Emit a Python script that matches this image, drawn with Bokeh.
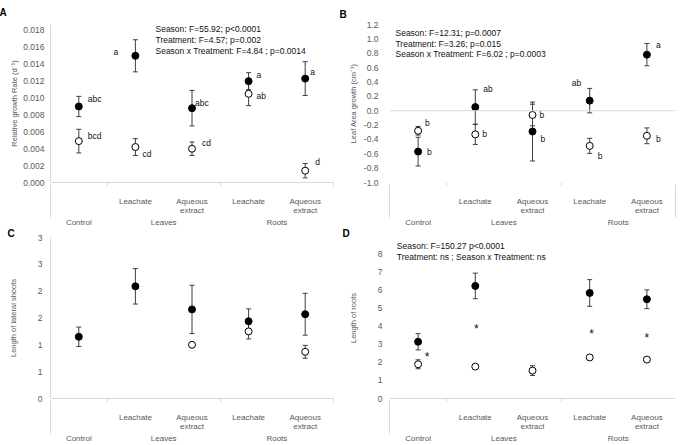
import numpy as np
from bokeh.plotting import figure
from bokeh.layouts import gridplot
from bokeh.models import (ColumnDataSource, FixedTicker, LinearAxis, Range1d, Label, Span,
                          NumeralTickFormatter, Title)
from bokeh.embed import file_html
from bokeh.resources import INLINE
from bokeh.core.properties import value

NAN = np.nan

# ---------------- shared categories ----------------
positions = [1, 2, 3, 4, 5]
sub_labels = [" ", "Leachate", "Aqueous\nextract", "Leachate", "Aqueous\nextract"]
group_labels = ["Control", "Leaves", "Roots"]
group_positions = [1, 2.5, 4.5]

# ---------------- Panel A : relative growth rate ----------------
a_filled = [0.0090, 0.0150, 0.0088, 0.0120, 0.0123]
a_filled_se = [0.0012, 0.0019, 0.0021, 0.0010, 0.0020]
a_open = [0.0049, 0.0042, 0.0040, 0.0105, 0.0014]
a_open_se = [0.0014, 0.0010, 0.0008, 0.0014, 0.00085]
a_filled_letters = ["abc", "a", "abc", "a", "a"]
a_open_letters = ["bcd", "cd", "cd", "ab", "d"]
a_yticks = [0.000, 0.002, 0.004, 0.006, 0.008, 0.010, 0.012, 0.014, 0.016, 0.018]
a_ylabel = "Relative growth Rate (d\u207b\u00b9)"
a_stats = ["Season: F=55.92; p<0.0001",
           "Treatment: F=4.57; p=0.002",
           "Season x Treatment: F=4.84 ; p=0.0014"]

# ---------------- Panel B : leaf area growth ----------------
b_filled = [-0.57, 0.05, -0.29, 0.14, 0.78]
b_filled_se = [0.20, 0.24, 0.41, 0.17, 0.155]
b_open = [-0.28, -0.33, -0.06, -0.49, -0.35]
b_open_se = [0.06, 0.14, 0.15, 0.105, 0.11]
b_filled_letters = ["b", "ab", "b", "ab", "a"]
b_open_letters = ["b", "b", "b", "b", "b"]
b_yticks = [-1.0, -0.8, -0.6, -0.4, -0.2, 0.0, 0.2, 0.4, 0.6, 0.8, 1.0, 1.2]
b_ylabel = "Leaf Area growth (cm\u207b\u00b9)"
b_stats = ["Season: F=12.31; p=0.0007",
           "Treatment: F=3.26; p=0.015",
           "Season x Treatment: F=6.02 ; p=0.0003"]

# ---------------- Panel C : lateral shoots ----------------
c_filled = [1.15, 2.09, 1.66, 1.44, 1.57]
c_filled_se = [0.18, 0.33, 0.45, 0.23, 0.39]
c_open = [NAN, NAN, 1.00, 1.25, 0.87]
c_open_se = [NAN, NAN, 0.03, 0.14, 0.12]
c_yticks = [0.0, 0.5, 1.0, 1.5, 2.0, 2.5, 3.0]
c_ytick_labels = ["0", "1", "1", "2", "2", "3", "3"]
c_ylabel = "Length of lateral shoots"

# ---------------- Panel D : roots ----------------
d_filled = [3.15, 6.25, NAN, 5.86, 5.51]
d_filled_se = [0.45, 0.71, NAN, 0.74, 0.52]
d_open = [1.90, 1.77, 1.55, 2.28, 2.16]
d_open_se = [0.25, 0.12, 0.27, 0.10, 0.12]
d_stars = ["*", "*", "", "*", "*"]
d_yticks = [0, 1, 2, 3, 4, 5, 6, 7, 8]
d_ylabel = "Length of roots"
d_stats = ["Season: F=150.27 p<0.0001",
           "Treatment: ns ; Season x Treatment: ns"]

# ---------------- style ----------------
FONT = "Liberation Sans"
GREY = "#595959"
LINE = "#d9d9d9"
ERR = "#3f3f3f"
TXT = "#111111"


def make_panel(w, h, bl, br, bt, bb, y0, y1, yticks, ylabel, fmt=None, overrides=None,
               tick_standoff=6, label_standoff=5, show_yline=True, show_xline=True,
               short_b=(1.5, 3.5, 5.5), tall_b=(0.5,)):
    p = figure(width=w, height=h, x_range=Range1d(0.5, 5.5), y_range=Range1d(y0, y1),
               x_axis_type=None, y_axis_type=None, title=None,
               output_backend="svg", toolbar_location=None,
               min_border_left=bl, min_border_right=br, min_border_top=bt, min_border_bottom=bb)
    p.outline_line_color = None
    p.background_fill_color = "white"
    p.border_fill_color = "white"

    yax = LinearAxis(ticker=FixedTicker(ticks=yticks),
                     axis_label=ylabel, axis_label_text_font=FONT,
                     axis_label_text_font_size="7.5px", axis_label_text_font_style="normal",
                     axis_label_text_color=GREY, axis_label_standoff=label_standoff,
                     major_tick_in=0, major_tick_out=0, minor_tick_line_color=None,
                     major_label_standoff=tick_standoff, major_label_text_font=FONT,
                     major_label_text_font_size="8.5px", major_label_text_color=GREY,
                     axis_line_color=LINE if show_yline else None)
    if fmt is not None:
        yax.formatter = NumeralTickFormatter(format=fmt)
    if overrides is not None:
        yax.major_label_overrides = overrides
    p.add_layout(yax, "left")

    sub = LinearAxis(ticker=FixedTicker(ticks=positions, minor_ticks=list(short_b)),
                     major_label_overrides={k: v for k, v in zip(positions, sub_labels)},
                     major_tick_in=0, major_tick_out=0, minor_tick_in=0, minor_tick_out=4,
                     minor_tick_line_color=LINE, axis_line_color=LINE if show_xline else None,
                     major_label_standoff=10, major_label_text_font=FONT,
                     major_label_text_line_height=1.0,
                     major_label_text_font_size="8px", major_label_text_color=GREY)
    p.add_layout(sub, "below")

    grp = LinearAxis(ticker=FixedTicker(ticks=group_positions, minor_ticks=list(tall_b)),
                     major_label_overrides={k: v for k, v in zip(group_positions, group_labels)},
                     major_tick_in=0, major_tick_out=0, minor_tick_in=33, minor_tick_out=0,
                     minor_tick_line_color=LINE, axis_line_color=None,
                     major_label_standoff=0, major_label_text_font=FONT,
                     major_label_text_line_height=1.0,
                     major_label_text_font_size="8px", major_label_text_color=GREY)
    p.add_layout(grp, "below")
    geom = (w - bl - br, h - bt - bb, y0, y1)
    return p, geom


def to_data(geom, px_x, px_y):
    fw, fh, y0, y1 = geom
    return 0.5 + px_x / fw * 5.0, y1 - px_y / fh * (y1 - y0)


def add_series(p, filled, filled_se, opened, opened_se):
    for m, s in ((filled, filled_se), (opened, opened_se)):
        m = np.array(m, dtype=float)
        s = np.array(s, dtype=float)
        src = ColumnDataSource(dict(x=np.array(positions, dtype=float), lo=m - s, hi=m + s))
        p.segment(x0="x", y0="lo", x1="x", y1="hi", source=src, line_color=ERR, line_width=1)
        p.scatter(x="x", y="lo", marker="dash", size=5, line_color=ERR, line_width=1, source=src)
        p.scatter(x="x", y="hi", marker="dash", size=5, line_color=ERR, line_width=1, source=src)
    p.scatter(x=positions, y=np.array(opened, dtype=float), marker="circle", size=7,
              fill_color="white", line_color="black", line_width=1)
    p.scatter(x=positions, y=np.array(filled, dtype=float), marker="circle", size=7,
              fill_color="black", line_color="black", line_width=1)


def add_letters(p, means, letters, dx, dy, size="8.5px", align="left"):
    src = ColumnDataSource(dict(x=np.array(positions, dtype=float), y=np.array(means, dtype=float),
                                t=letters, dx=dx, dy=dy))
    p.text(x="x", y="y", text="t", x_offset="dx", y_offset="dy", source=src,
           text_font=value(FONT), text_font_size=value(size), text_color=TXT,
           text_baseline="middle", text_align=align)


def add_stats(p, geom, lines, px_x, px_ys):
    for t, py in zip(lines, px_ys):
        x, y = to_data(geom, px_x, py)
        p.add_layout(Label(x=x, y=y, text=t, text_font=FONT, text_font_size="8.5px",
                           text_color=TXT, text_align="left", text_baseline="middle"))


def add_tag(p, t, offset, standoff):
    p.add_layout(Title(text=t, align="left", offset=offset, standoff=standoff,
                       vertical_align="top", text_font=FONT, text_font_size="10px",
                       text_font_style="bold", text_color="black"), "above")


# ---------------- A ----------------
pA, gA = make_panel(340, 229, 50, 7, 24, 46, 0.0, 0.018706, a_yticks, a_ylabel, fmt="0.000",
                    tick_standoff=6, label_standoff=1)
add_tag(pA, "A", -51, 10)
add_series(pA, a_filled, a_filled_se, a_open, a_open_se)
add_letters(pA, a_filled, a_filled_letters, [9, -22, 3, 8, 5], [-7, -4, -5, -6, -7])
add_letters(pA, a_open, a_open_letters, [9, 7, 10, 8, 10], [-5, 7, -6, 2, -9])
add_stats(pA, gA, a_stats, 105, [5, 16, 27])

# ---------------- B ----------------
pB, gB = make_panel(341, 229, 49, 5, 19, 46, -1.0, 1.2, b_yticks, b_ylabel, fmt="0.0",
                    tick_standoff=11, label_standoff=3, show_yline=False, show_xline=False,
                    short_b=(1.5, 3.5), tall_b=(0.5, 5.5))
add_tag(pB, "B", -50, 5)
pB.add_layout(Span(location=0, dimension="width", line_color=LINE, line_width=1))
add_series(pB, b_filled, b_filled_se, b_open, b_open_se)
add_letters(pB, b_filled, b_filled_letters, [9, 8, 8, -18, 9], [0, -18, 7, -18, -10])
add_letters(pB, b_open, b_open_letters, [7, 7, 7, 8, 9], [-8, 0, 0, 10, 3])
add_stats(pB, gB, b_stats, 6, [9, 20.3, 31])

# ---------------- C ----------------
pC, gC = make_panel(340, 216, 43, 7, 8, 46, 0.0, 3.0, c_yticks, c_ylabel,
                    overrides={k: v for k, v in zip(c_yticks, c_ytick_labels)},
                    tick_standoff=8, label_standoff=17)
add_tag(pC, "C", -43, -6)
add_series(pC, c_filled, c_filled_se, c_open, c_open_se)

# ---------------- D ----------------
pD, gD = make_panel(341, 216, 44, 6, 8, 46, 0.0, 8.938, d_yticks, d_ylabel, fmt="0",
                    tick_standoff=7, label_standoff=17, show_yline=False,
                    short_b=(1.5, 3.5))
add_tag(pD, "D", -47, -6)
add_series(pD, d_filled, d_filled_se, d_open, d_open_se)
d_mid = [(f + o) / 2 if not np.isnan(f) else o for f, o in zip(d_filled, d_open)]
add_letters(pD, d_mid, d_stars, [9, 1, 0, 2, 0], [3.6, 2.6, 0, 8.5, 8.2], size="12px", align="center")
add_stats(pD, gD, d_stats, 7.5, [8.7, 19.7])

grid = gridplot([[pA, pB], [pC, pD]], toolbar_location=None)

open("out.html", "w").write(file_html(grid, INLINE))
